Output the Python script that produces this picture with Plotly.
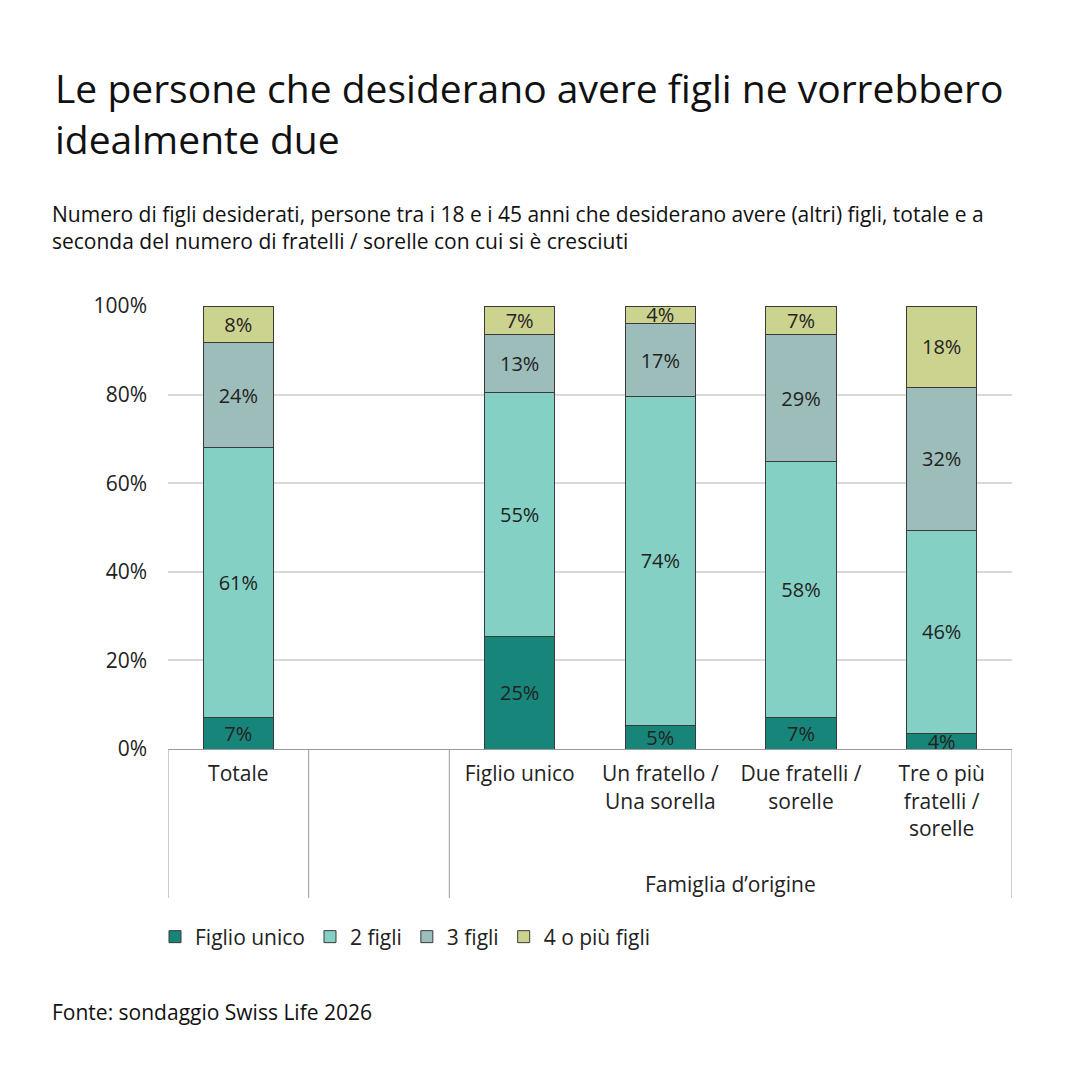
import plotly.graph_objects as go

categories = ["Totale", "Figlio unico", "Un fratello /<br>Una sorella", "Due fratelli /<br>sorelle", "Tre o più<br>fratelli /<br>sorelle"]
axis_order = ["Totale", " ", "Figlio unico", "Un fratello /<br>Una sorella", "Due fratelli /<br>sorelle", "Tre o più<br>fratelli /<br>sorelle"]
series_names = ["Figlio unico", "2 figli", "3 figli", "4 o più figli"]
figlio_unico = [7.2, 25.3, 5.4, 7.2, 3.6]
due_figli = [60.9, 55.1, 74.1, 57.6, 45.8]
tre_figli = [23.6, 13.1, 16.6, 28.7, 32.2]
quattro_piu = [8.3, 6.5, 3.9, 6.5, 18.4]
colors = ["#17857A", "#85D0C4", "#9DBDBB", "#CCD38F"]
group_label = "Famiglia d’origine"

FONT = "Open Sans"
FS = 21
W, H = 1080, 1080
L, R, T, B = 168, 68, 306, 331
PH = H - T - B
PW = W - L - R

fig = go.Figure()
for name, vals, col in zip(series_names, [figlio_unico, due_figli, tre_figli, quattro_piu], colors):
    fig.add_trace(go.Bar(
        x=categories, y=vals, name=name,
        marker=dict(color=col, line=dict(color="#3a3a3a", width=1)),
        texttemplate="%{y:.0f}%", textposition="inside", insidetextanchor="middle",
        textfont=dict(family=FONT, size=20, color="#222222"),
        constraintext="none",
        cliponaxis=False,
        hoverinfo="skip",
    ))

fig.update_layout(
    barmode="stack", bargap=0.5,
    width=W, height=H,
    margin=dict(l=L, r=R, t=T, b=B),
    paper_bgcolor="white", plot_bgcolor="white",
    font=dict(family=FONT, size=FS, color="#222222"),
    showlegend=True,
    legend=dict(orientation="h", x=(155 - L) / PW, xanchor="left", y=(749 - 937) / PH, yanchor="middle",
                font=dict(family=FONT, size=FS, color="#222222"), traceorder="normal",
                itemwidth=30, tracegroupgap=0),
    uniformtext=dict(mode=False),
    title=dict(text="Le persone che desiderano avere figli ne vorrebbero<br>idealmente due",
               xref="container", yref="container", x=55 / W, xanchor="left",
               y=1 - 103 / H, yanchor="middle",
               font=dict(family=FONT, size=39, color="#111111")),
)

fig.update_xaxes(type="category", categoryorder="array", categoryarray=axis_order,
                 showgrid=False, showline=True, linecolor="#9a9a9a", linewidth=1,
                 ticks="", tickfont=dict(family=FONT, size=FS, color="#222222"),
                 ticklabelstandoff=6,
                 range=[-0.5, 5.5])
fig.update_yaxes(range=[0, 100], dtick=20, ticksuffix="%", showgrid=True,
                 gridcolor="#D9D9D9", gridwidth=2, zeroline=False, showline=False,
                 tickfont=dict(family=FONT, size=FS, color="#222222"), ticklabelstandoff=20)

# vertical separators
ybot = -(898 - 749) / PH
for xv in [-0.5, 0.5, 1.5, 5.5]:
    fig.add_shape(type="line", xref="x", yref="paper", x0=xv, x1=xv, y0=0, y1=ybot,
                  line=dict(color="#9a9a9a", width=1), layer="above")

fig.add_annotation(text=group_label, xref="x", yref="paper", x=3.5, y=(749 - 884) / PH,
                   showarrow=False, font=dict(family=FONT, size=FS, color="#222222"),
                   xanchor="center", yanchor="middle")

fig.add_annotation(text="Numero di figli desiderati, persone tra i 18 e i 45 anni che desiderano avere (altri) figli, totale e a<br>seconda del numero di fratelli / sorelle con cui si è cresciuti",
                   xref="paper", yref="paper", x=(50 - L) / PW, y=(749 - 198) / PH,
                   showarrow=False, align="left", xanchor="left", yanchor="top",
                   font=dict(family=FONT, size=FS, color="#111111"))

fig.add_annotation(text="Fonte: sondaggio Swiss Life 2026",
                   xref="paper", yref="paper", x=(50 - L) / PW, y=(749 - 1012) / PH,
                   showarrow=False, align="left", xanchor="left", yanchor="middle",
                   font=dict(family=FONT, size=FS, color="#111111"))

fig.write_html("out.html")
